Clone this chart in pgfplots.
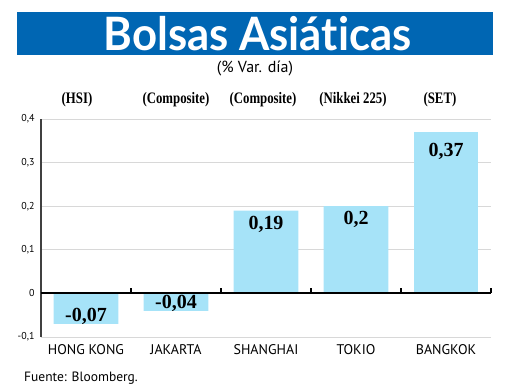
\documentclass[border=0pt]{standalone}
\usepackage{pgfplots}
\pgfplotsset{compat=1.18}
\usepackage{fontspec}
\setmainfont{PT Sans}
\newfontfamily\serifb{Liberation Serif}
\newfontfamily\titlefont[Ligatures={NoCommon,NoRare,NoDiscretionary}]{Lato}
\definecolor{banner}{HTML}{0066B3}
\definecolor{barc}{HTML}{A6E3F8}
\definecolor{gridc}{HTML}{D8D8D8}
\newcommand{\idx}[1]{\scalebox{0.8}[1]{\serifb\bfseries\fontsize{16}{16}\selectfont #1}}
\begin{document}
\begin{tikzpicture}[x=1pt,y=1pt]
\path[use as bounding box] (0,0) rectangle (520,390);
\fill[banner] (17,335) rectangle (493,378);
\node[text=white, inner sep=0] at (257.5,356.5) {\scalebox{0.95}[1]{\titlefont\bfseries\fontsize{46}{46}\selectfont Bolsas Asiát\kern0pt icas}};
\node[inner sep=0] at (255,321) {\fontsize{16}{16}\selectfont (\% Var. día)};
\node[anchor=west, inner sep=0] at (24,12) {\fontsize{13.5}{14}\selectfont Fuente: Bloomberg.};
\begin{axis}[
  at={(41pt,53pt)}, anchor=south west, scale only axis,
  width=450pt, height=218pt,
  xmin=-0.5, xmax=4.5, ymin=-0.1, ymax=0.4,
  axis lines*=left,
  x axis line style={draw=none},
  y axis line style={draw=black!75, line width=1.5pt},
  ytick={-0.1,0,0.1,0.2,0.3,0.4},
  yticklabels={{-0,1},{0},{0,1},{0,2},{0,3},{0,4}},
  xtick={0,1,2,3,4},
  xticklabels={HONG KONG,JAKARTA,SHANGHAI,TOKIO,BANGKOK},
  major tick length=0,
  ymajorgrids, grid style={gridc, line width=0.9pt},
  yticklabel style={font=\fontsize{10}{10}\selectfont, xshift=-3pt},
  xticklabel style={font=\fontsize{14}{14}\selectfont, yshift=-4pt},
  ybar, bar width=0.72, bar shift=0,
  clip=false,
  /pgf/number format/.cd, fixed, use comma, precision=2, assume math mode=true, /pgfplots/.cd,
  nodes near coords style={font=\serifb\bfseries\fontsize{20}{20}\selectfont, inner sep=0},
]
\addplot[fill=barc, draw=none, nodes near coords,
  every node near coord/.append style={anchor=base, yshift=2pt}]
  coordinates {(0,-0.07) (1,-0.04)};
\addplot[fill=barc, draw=none, nodes near coords,
  every node near coord/.append style={anchor=north, yshift=-5pt}]
  coordinates {(2,0.19) (3,0.2)};
\addplot[fill=barc, draw=none, nodes near coords,
  every node near coord/.append style={anchor=north, yshift=-11pt}]
  coordinates {(4,0.37)};
\draw[black, line width=1.8pt] (axis cs:-0.5,0) -- (axis cs:4.5,0);
\pgfplotsinvokeforeach{0.5,1.5,2.5,3.5,4.5}{\draw[black, line width=1.5pt] (axis cs:#1,0) -- ([yshift=5pt]axis cs:#1,0);}
\node at ([yshift=19pt]axis cs:-0.1,0.4) {\idx{(HSI)}};
\node at ([yshift=19pt]axis cs:1.0,0.4) {\idx{(Composite)}};
\node at ([yshift=19pt]axis cs:1.967,0.4) {\idx{(Composite)}};
\node at ([yshift=19pt]axis cs:2.967,0.4) {\idx{(Nikkei 225)}};
\node at ([yshift=19pt]axis cs:3.933,0.4) {\idx{(SET)}};
\end{axis}
\end{tikzpicture}
\end{document}
